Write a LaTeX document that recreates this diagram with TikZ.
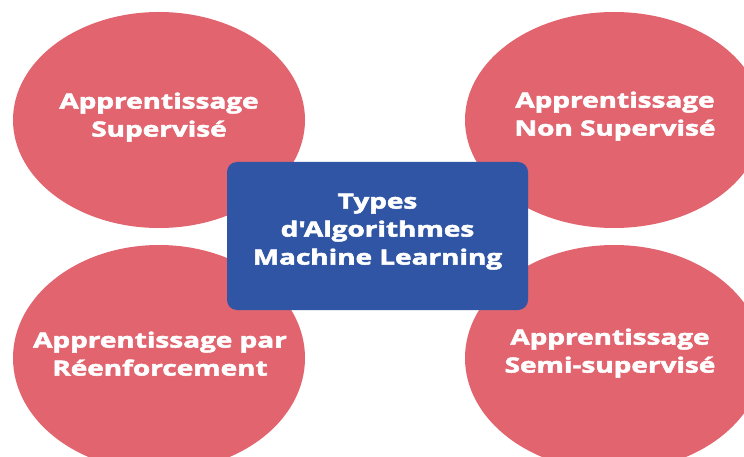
\documentclass[tikz,border=0pt]{standalone}
\usepackage{fontspec}
\newfontfamily\labelfont{Open Sans}[BoldFeatures={FakeBold=2.2}]
\usetikzlibrary{shapes.geometric}
\definecolor{petal}{HTML}{E1646F}
\definecolor{hub}{HTML}{2F55A4}
% wide bold label: text slightly stretched horizontally
\newcommand{\widelabel}[1]{\scalebox{1.33}[1]{\begin{tabular}{@{}c@{}}#1\end{tabular}}}
\tikzset{
  petalnode/.style={ellipse, fill=petal, draw=none, inner sep=0pt},
  hubnode/.style={rectangle, rounded corners=10pt, fill=hub, draw=none,
    minimum width=301pt, minimum height=148pt, inner sep=0pt},
  lbl/.style={text=white, font=\labelfont\fontsize{21}{28}\selectfont\bfseries, inner sep=0pt}
}
\begin{document}
\begin{tikzpicture}[x=1pt,y=1pt]
  \useasboundingbox (0,0) rectangle (744,-457);
  \fill[white] (0,0) rectangle (744,-457);
  % four learning families
  \node[petalnode, minimum width=292pt, minimum height=216pt] (sup) at (159,-120) {};
  \node[petalnode, minimum width=298pt, minimum height=216pt] (nonsup) at (614,-120) {};
  \node[petalnode, minimum width=292pt, minimum height=226pt] (renf) at (159,-358) {};
  \node[petalnode, minimum width=298pt, minimum height=226pt] (semi) at (614,-358) {};
  % central box
  \node[hubnode] (types) at (377.5,-236) {};
  % labels
  \node[lbl] (tsup) at (159,-117) {\widelabel{Apprentissage\\Supervisé}};
  \node[lbl] (tnonsup) at (615,-116) {\widelabel{Apprentissage\\Non Supervisé}};
  \node[lbl] (trenf) at (160,-356) {\widelabel{Apprentissage par\\Réenforcement}};
  \node[lbl] (tsemi) at (610,-353) {\widelabel{Apprentissage\\Semi-supervisé}};
  \node[lbl] (ttypes) at (377.5,-231) {\widelabel{Types\\d'Algorithmes\\Machine Learning}};
\end{tikzpicture}
\end{document}
